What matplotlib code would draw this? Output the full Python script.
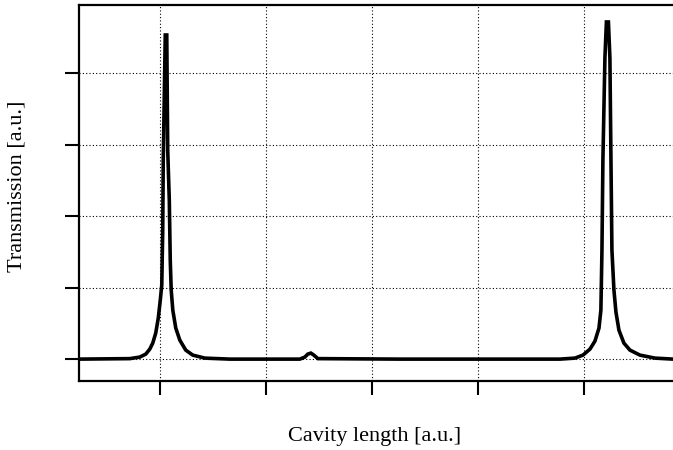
import numpy as np
import matplotlib.pyplot as plt

plt.rcParams['font.family'] = ['Liberation Serif', 'DejaVu Serif']

# transmission trace, sampled along the scan (cavity length in a.u.)
length = [0.236, 0.717, 0.811, 0.868, 0.906, 0.934, 0.962, 0.986, 1.005, 1.019,
          1.028, 1.033, 1.052, 1.066, 1.075, 1.090, 1.099, 1.108, 1.123, 1.151,
          1.189, 1.245, 1.311, 1.425, 1.660, 2.321, 2.368, 2.396, 2.425, 2.453,
          2.491, 3.264, 4.774, 4.915, 4.991, 5.057, 5.104, 5.142, 5.160, 5.170,
          5.179, 5.198, 5.212, 5.231, 5.245, 5.255, 5.264, 5.283, 5.302,
          5.330, 5.377, 5.434, 5.528, 5.670, 5.840]
trans = [0.000, 0.007, 0.028, 0.070, 0.140, 0.224, 0.364, 0.573, 0.825, 1.035,
         1.804, 2.783, 4.531, 4.531, 2.923, 2.220, 1.385, 0.965, 0.685, 0.434,
         0.266, 0.126, 0.056, 0.014, 0.000, 0.000, 0.028, 0.070, 0.084, 0.056,
         0.007, 0.000, 0.000, 0.014, 0.056, 0.140, 0.252, 0.434, 0.685, 1.524,
         2.783, 4.210, 4.713, 4.713, 4.210, 2.783, 1.524, 0.965, 0.657,
         0.406, 0.224, 0.126, 0.056, 0.014, 0.000]

xticks = [1, 2, 3, 4, 5]
yticks = [0, 1, 2, 3, 4]

fig = plt.figure(figsize=(6.73, 4.5), dpi=100)
ax = fig.add_axes([0.117, 0.153, 0.883, 0.836])

ax.plot(length, trans, color='black', lw=2.6, solid_joinstyle='miter')

ax.set_xlim(0.236, 5.84)
ax.set_ylim(-0.308, 4.951)
ax.set_xticks(xticks)
ax.set_yticks(yticks)
ax.set_xticklabels([])
ax.set_yticklabels([])
ax.tick_params(direction='out', length=10, width=1.5, color='black')
ax.grid(True, color='black', linestyle=(0, (1, 2)), linewidth=0.8)

for side in ['left', 'bottom', 'top']:
    ax.spines[side].set_linewidth(1.6)
ax.spines['right'].set_visible(False)

fig.text(0.556, 0.031, 'Cavity length [a.u.]', ha='center', va='center', fontsize=16)
fig.text(0.025, 0.586, 'Transmission [a.u.]', ha='center', va='center',
         rotation=90, fontsize=16)

fig.savefig('out.png', dpi=100)
